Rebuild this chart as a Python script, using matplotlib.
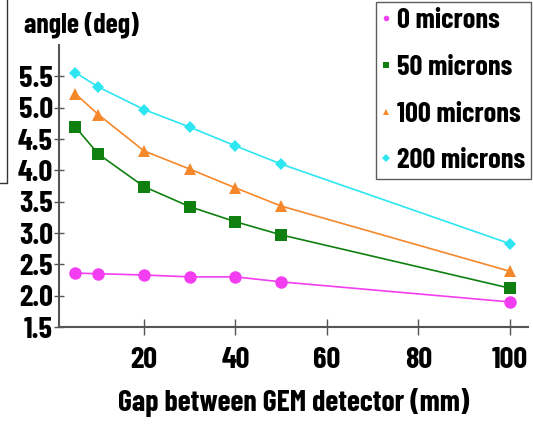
import matplotlib
matplotlib.use("Agg")
import matplotlib.pyplot as plt
from matplotlib.lines import Line2D

plt.rcParams['font.family'] = ['Barlow Condensed', 'Roboto Condensed', 'DejaVu Sans']
plt.rcParams['font.weight'] = 'bold'

# gap between detectors (mm)
gap = [5, 10, 20, 30, 40, 50, 100]

# angle (deg) for each misalignment
angle_0 = [2.36, 2.35, 2.33, 2.30, 2.30, 2.22, 1.90]
angle_50 = [4.69, 4.26, 3.74, 3.42, 3.18, 2.97, 2.12]
angle_100 = [5.22, 4.89, 4.31, 4.02, 3.72, 3.43, 2.39]
angle_200 = [5.56, 5.33, 4.97, 4.69, 4.39, 4.10, 2.83]

labels = ['0 microns', '50 microns', '100 microns', '200 microns']
xticks = [20, 40, 60, 80, 100]
yticks = [1.5, 2.0, 2.5, 3.0, 3.5, 4.0, 4.5, 5.0, 5.5]

series = [angle_0, angle_50, angle_100, angle_200]
colors = ['#f23ef0', '#0f800f', '#f5882a', '#2ee6f2']
markers = ['o', 's', '^', 'D']
msizes = [9, 9, 8, 6.5]

fig = plt.figure(figsize=(5.33, 4.24), dpi=100)
ax = fig.add_axes([59 / 533, 1 - 327 / 424, (528 - 59) / 533, (327 - 45) / 424])

for ys, c, m, ms in zip(series, colors, markers, msizes):
    ax.plot(gap, ys, color=c, lw=1.2, marker=m, markersize=ms,
            markeredgewidth=0, clip_on=False)

ax.set_xlim(1.4, 104)
ax.set_ylim(1.5, 6.0)
ax.set_xticks(xticks)
ax.set_yticks(yticks)
ax.set_xticklabels([str(v) for v in xticks])
ax.set_yticklabels(['%.1f' % v for v in yticks])

for s in ['top', 'right']:
    ax.spines[s].set_visible(False)
for s in ['left', 'bottom']:
    ax.spines[s].set_color('#555555')
    ax.spines[s].set_linewidth(1.5)

ax.tick_params(axis='x', direction='inout', length=11, width=1, color='#555555',
               pad=9, labelsize=22)
ax.tick_params(axis='y', direction='inout', length=7, width=1, color='#555555',
               pad=1, labelsize=22)

ax.set_xlabel('Gap between GEM detector (mm)', fontsize=21.5, fontweight='bold',
              labelpad=10)
fig.text(24 / 533, 1 - 25 / 424, 'angle (deg)', fontsize=20, fontweight='bold',
         ha='left', va='center')

# legend with tiny markers
handles = [Line2D([], [], ls='none', marker=m, color=c, markersize=4,
                  markeredgewidth=0) for c, m in zip(colors, markers)]
leg = fig.legend(handles, labels, loc='upper right',
                 bbox_to_anchor=(531 / 533, 1 - 2 / 424),
                 fontsize=20.5, frameon=True, fancybox=False,
                 handlelength=0.25, handletextpad=0.25, labelspacing=0.76,
                 borderpad=0.22, borderaxespad=0)
leg.get_frame().set_edgecolor('#333333')
leg.get_frame().set_linewidth(1.0)

# edge of the neighbouring frame on the left
fig.add_artist(Line2D([7 / 533, 7 / 533, 0], [1.0, 1 - 183 / 424, 1 - 183 / 424],
                      transform=fig.transFigure, color='#333333', lw=1))

fig.savefig('out.png', dpi=100)
